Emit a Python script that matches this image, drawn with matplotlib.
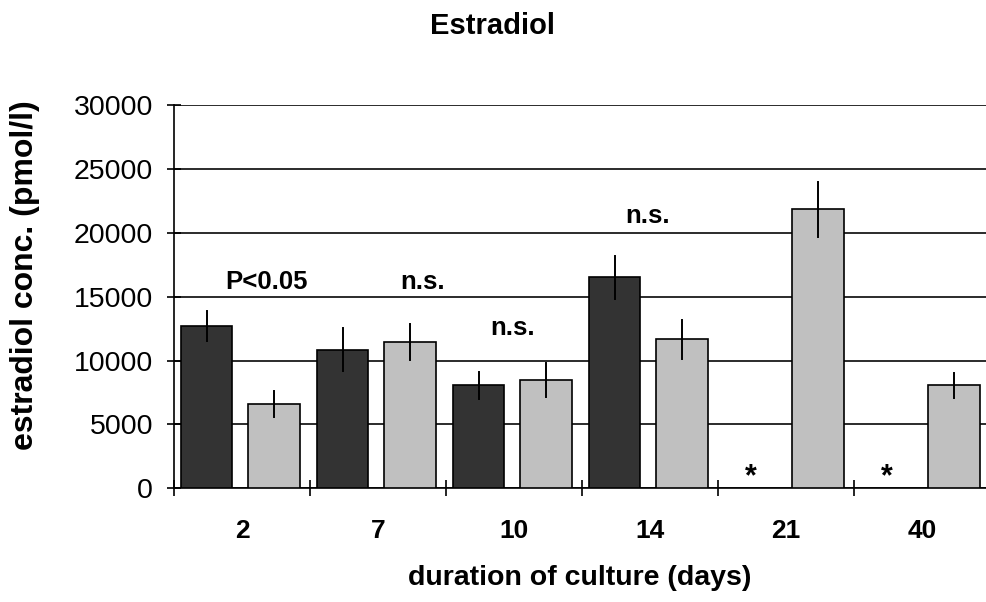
import matplotlib.pyplot as plt
import numpy as np

plt.rcParams['font.family'] = ['Liberation Sans', 'DejaVu Sans']

# data
days = ['2', '7', '10', '14', '21', '40']
dark_vals = [12700, 10850, 8050, 16500, 0, 0]
dark_err = [1150, 1700, 1070, 1720, 0, 0]
light_vals = [6600, 11450, 8480, 11650, 21850, 8050]
light_err = [1000, 1400, 1330, 1540, 2160, 1000]

notes = ['P<0.05', 'n.s.', 'n.s.', 'n.s.']
note_x = [0.18, 1.33, 1.99, 2.98]
note_y = [15600, 15600, 12000, 20800]
star_groups = [4, 5]

x = np.arange(len(days))
w = 0.38

fig = plt.figure(figsize=(9.86, 6.02), dpi=100)
ax = fig.add_axes([174 / 986, 113.7 / 602, 816 / 986, 383.3 / 602])

# bars (no bar drawn where the value is zero -> marked with *)
for i in x:
    if dark_vals[i] > 0:
        ax.bar(i - 0.26, dark_vals[i], w, color='#333333', edgecolor='black', linewidth=1.2, zorder=3)
        ax.plot([i - 0.26, i - 0.26], [dark_vals[i] - dark_err[i], dark_vals[i] + dark_err[i]],
                color='black', lw=1.4, zorder=4)
    ax.bar(i + 0.235, light_vals[i], w, color='#c0c0c0', edgecolor='black', linewidth=1.2, zorder=3)
    ax.plot([i + 0.235, i + 0.235], [light_vals[i] - light_err[i], light_vals[i] + light_err[i]],
            color='black', lw=1.4, zorder=4)

for t, nx, ny in zip(notes, note_x, note_y):
    ax.text(nx, ny, t, ha='center', va='baseline', fontsize=18.5, fontweight='bold')
for g in star_groups:
    ax.text(g - 0.26, 250, '*', ha='center', va='baseline', fontsize=22, fontweight='bold')

ax.set_xlim(-0.5, 5.5)
ax.set_ylim(0, 30000)
ax.set_yticks(np.arange(0, 30001, 5000))
ax.yaxis.grid(True, color='#1a1a1a', linewidth=1.3, zorder=0)
ax.set_axisbelow(True)

# category boundaries as major ticks, labels on minor ticks
ax.set_xticks(np.arange(-0.5, 6.0, 1.0))
ax.set_xticklabels([])
ax.set_xticks(x, minor=True)
ax.set_xticklabels(days, minor=True, fontsize=19, fontweight='bold')
ax.tick_params(axis='x', which='major', direction='inout', length=11, width=1.2)
ax.tick_params(axis='x', which='minor', length=0, pad=22)
ax.tick_params(axis='y', direction='inout', length=10, width=1.2, labelsize=20.5, pad=10)

for s in ['top', 'right']:
    ax.spines[s].set_visible(False)
ax.spines['left'].set_linewidth(1.2)
ax.spines['bottom'].set_linewidth(1.2)

ax.set_ylabel('estradiol conc. (pmol/l)', fontsize=23, fontweight='bold')
ax.yaxis.set_label_coords(-0.164, 0.555)
ax.set_xlabel('duration of culture (days)', fontsize=20.5, fontweight='bold')
ax.xaxis.set_label_coords(0.497, -0.2)

fig.text(493 / 986, 1 - 26 / 602, 'Estradiol', ha='center', va='center', fontsize=21, fontweight='bold')

fig.savefig('out.png', dpi=100)
